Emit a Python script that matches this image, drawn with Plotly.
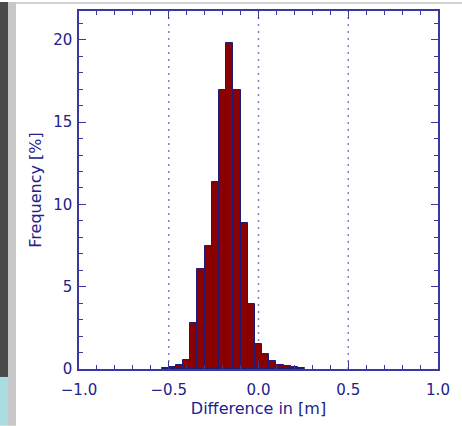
import plotly.graph_objects as go

# Histogram data: bin centres [m] and frequency [%]
bin_centers = [-0.52, -0.48, -0.44, -0.40, -0.36, -0.32, -0.28, -0.24, -0.20, -0.16,
               -0.12, -0.08, -0.04, 0.00, 0.04, 0.08, 0.12, 0.16, 0.20, 0.24]
frequency = [0.07, 0.13, 0.22, 0.55, 2.8, 6.05, 7.5, 11.35, 16.95, 19.8,
             16.95, 8.85, 3.95, 1.5, 0.9, 0.5, 0.25, 0.2, 0.13, 0.05]
bin_width = 0.04
ref_lines = [-0.5, 0.0, 0.5]
x_ticks = [-1.0, -0.5, 0.0, 0.5, 1.0]
x_tick_text = ["\u22121.0", "\u22120.5", "0.0", "0.5", "1.0"]
y_ticks = [0, 5, 10, 15, 20]

W, H = 462, 426
L, R, T, B = 79, 438, 9, 369
pw, ph = R - L, B - T

def px(x):
    return (x - L) / pw

def py(y):
    return (B - y) / ph

TEXT = "#22228c"
AXIS = "#3a3a9e"
FONT = "DejaVu Sans"

fig = go.Figure()
fig.add_trace(go.Bar(
    x=bin_centers, y=frequency, width=bin_width,
    marker=dict(color="#8b0000", line=dict(color="#1c1c78", width=1)),
))

shapes = []
# frame around page
shapes.append(dict(type="rect", xref="paper", yref="paper", x0=px(0), x1=px(8), y0=py(0), y1=py(377),
                   fillcolor="#4a4a4a", line=dict(width=0), layer="below"))
shapes.append(dict(type="rect", xref="paper", yref="paper", x0=px(0), x1=px(8), y0=py(377), y1=py(426),
                   fillcolor="#a9dde1", line=dict(width=0), layer="below"))
shapes.append(dict(type="rect", xref="paper", yref="paper", x0=px(8), x1=px(16), y0=py(0), y1=py(426),
                   fillcolor="#c8c8c8", line=dict(width=0), layer="below"))
shapes.append(dict(type="rect", xref="paper", yref="paper", x0=px(16), x1=px(462), y0=py(0), y1=py(2),
                   fillcolor="#d2d2d2", line=dict(width=0), layer="below"))
for v in ref_lines:
    shapes.append(dict(type="line", xref="x", yref="paper", x0=v, x1=v, y0=0, y1=1,
                       line=dict(color="#8080cc", width=1.5, dash="2px,5px"), layer="below"))

fig.update_layout(
    width=W, height=H,
    margin=dict(l=L, r=W - R, t=T, b=H - B),
    paper_bgcolor="white", plot_bgcolor="white",
    showlegend=False, bargap=0,
    font=dict(family=FONT, color=TEXT, size=15),
    shapes=shapes,
    xaxis=dict(
        range=[-1.0, 1.0], tickvals=x_ticks, ticktext=x_tick_text,
        ticks="inside", ticklen=8, tickwidth=1, tickcolor=AXIS,
        minor=dict(dtick=0.1, ticks="inside", ticklen=4, tickcolor=AXIS),
        showline=True, linecolor=AXIS, linewidth=1.5, mirror="allticks",
        showgrid=False, zeroline=False, ticklabelstandoff=6,
        title=dict(text="Difference in [m]", font=dict(size=16), standoff=3),
        tickfont=dict(size=15),
    ),
    yaxis=dict(
        range=[0, 21.75], tickvals=y_ticks,
        ticks="inside", ticklen=7, tickwidth=1, tickcolor=AXIS,
        minor=dict(dtick=1, ticks="inside", ticklen=4, tickcolor=AXIS),
        showline=True, linecolor=AXIS, linewidth=1.5, mirror="allticks",
        showgrid=False, zeroline=False, ticklabelstandoff=2,
        title=dict(text="Frequency [%]", font=dict(size=16), standoff=8),
        tickfont=dict(size=15),
    ),
)

fig.write_html("out.html")
